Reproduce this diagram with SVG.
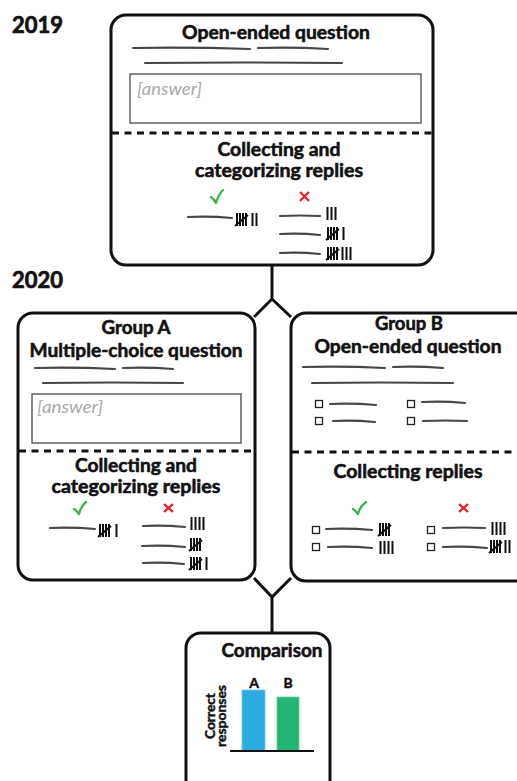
<svg xmlns="http://www.w3.org/2000/svg" xmlns:xlink="http://www.w3.org/1999/xlink" width="517" height="781" viewBox="0 0 517 781">
<style>
.box{fill:#fff;stroke:#111;stroke-width:3}
.ans{fill:#fff;stroke:#555;stroke-width:1.4}
.dash{stroke:#111;stroke-width:3;stroke-dasharray:7 5.5;fill:none}
.conn{stroke:#111;stroke-width:3;fill:none;stroke-linejoin:miter}
.h{font-family:Lato,"Open Sans","Liberation Sans",sans-serif;font-weight:700;fill:#111;stroke:#111;stroke-width:0.55;text-anchor:middle;font-size:18px}
.yr{font-family:Lato,"Open Sans","Liberation Sans",sans-serif;font-weight:700;fill:#111;stroke:#111;stroke-width:0.7;font-size:22px}
.ph{font-family:Lato,"Open Sans","Liberation Sans",sans-serif;font-style:italic;fill:#aaa;font-size:17px}
.sm{font-family:Lato,"Open Sans","Liberation Sans",sans-serif;font-weight:700;fill:#111;stroke:#111;stroke-width:0.45;text-anchor:middle;font-size:14px}
.scr{stroke:#333;stroke-width:2.1;stroke-linecap:round;fill:none;opacity:.9}
.ok{stroke:#3bb54a;stroke-width:2.3;fill:none;stroke-linecap:round;stroke-linejoin:round}
.no{stroke:#ed1c24;stroke-width:2.3;fill:none;stroke-linecap:butt}
.cb{fill:#fff;stroke:#222;stroke-width:1.3}
.t{stroke:#111;stroke-width:2;fill:none}
</style>
<defs>
<g id="t1"><line class="t" x1="0.5" y1="0" x2="0.5" y2="13"/></g>
<g id="t5"><line class="t" x1="1" y1="0" x2="1" y2="13"/><line class="t" x1="4" y1="0" x2="4" y2="13"/><line class="t" x1="7" y1="0" x2="7" y2="13"/><line class="t" x1="10" y1="0" x2="10" y2="13"/><line class="t" x1="-1" y1="13" x2="12" y2="2"/></g>
</defs>

<text class="yr" x="12" y="33" textLength="51" lengthAdjust="spacingAndGlyphs">2019</text>
<text class="yr" x="12" y="288" textLength="51" lengthAdjust="spacingAndGlyphs">2020</text>

<g id="connectors">
<path class="conn" d="M272,265 V299 L254,317 M272,299 L291,317"/>
<path class="conn" d="M254,578 L272,597 L291,578 M272,597 V633"/>
</g>

<g id="node-2019">
<rect class="box" x="111" y="15" width="322" height="250" rx="15"/>
<text class="h" x="276" y="39" textLength="188" lengthAdjust="spacingAndGlyphs">Open-ended question</text>
<path class="scr" d="M133,48 Q190,47 250,49 M258,48 Q295,47 328,49 M145,63 Q240,62 342,63"/>
<rect class="ans" x="130" y="74" width="291" height="49"/>
<text class="ph" x="137" y="95" textLength="65" lengthAdjust="spacingAndGlyphs">[answer]</text>
<line class="dash" x1="112" y1="133" x2="432" y2="133"/>
<text class="h" x="279" y="156" textLength="123" lengthAdjust="spacingAndGlyphs">Collecting and</text>
<text class="h" x="279" y="177" textLength="168" lengthAdjust="spacingAndGlyphs">categorizing replies</text>
<path class="ok" d="M211,197 Q214,199 216,203 Q218,195 223,190"/>
<path class="no" d="M300,192 L309,201 M309,192 L300,201"/>
<path class="scr" d="M188,217 Q210,216 232,218"/>
<use href="#t5" x="236" y="213"/><use href="#t1" x="252" y="213"/><use href="#t1" x="256" y="213"/>
<path class="scr" d="M280,216 Q300,215 320,216 M280,234 Q300,233 320,235 M280,253 Q300,252 320,254"/>
<use href="#t1" x="327" y="207"/><use href="#t1" x="331" y="207"/><use href="#t1" x="335" y="207"/>
<use href="#t5" x="327" y="227"/><use href="#t1" x="343" y="227"/>
<use href="#t5" x="327" y="247"/><use href="#t1" x="342" y="247"/><use href="#t1" x="346" y="247"/><use href="#t1" x="350" y="247"/>
</g>

<g id="node-groupA">
<rect class="box" x="18" y="313" width="237" height="267" rx="15"/>
<text class="h" x="136" y="334" textLength="69" lengthAdjust="spacingAndGlyphs">Group A</text>
<text class="h" x="136" y="357" textLength="213" lengthAdjust="spacingAndGlyphs">Multiple-choice question</text>
<path class="scr" d="M35,368 Q75,367 115,369 M123,368 Q148,367 173,369 M43,383 Q110,382 183,383"/>
<rect class="ans" x="32" y="394" width="209" height="49"/>
<text class="ph" x="37" y="413" textLength="66" lengthAdjust="spacingAndGlyphs">[answer]</text>
<line class="dash" x1="19" y1="451" x2="254" y2="451"/>
<text class="h" x="136" y="472" textLength="122" lengthAdjust="spacingAndGlyphs">Collecting and</text>
<text class="h" x="136" y="493" textLength="169" lengthAdjust="spacingAndGlyphs">categorizing replies</text>
<path class="ok" d="M74,509 Q77,511 79,514 Q81,506 86,502"/>
<path class="no" d="M164,504 L173,512 M173,504 L164,512"/>
<path class="scr" d="M50,528 Q72,527 95,529"/>
<use href="#t5" x="99" y="524"/><use href="#t1" x="116" y="524"/>
<path class="scr" d="M143,526 Q164,525 185,527 M142,546 Q164,545 185,547 M143,563 Q164,562 184,564"/>
<use href="#t1" x="191" y="517"/><use href="#t1" x="195" y="517"/><use href="#t1" x="199" y="517"/><use href="#t1" x="203" y="517"/>
<use href="#t5" x="190" y="538"/>
<use href="#t5" x="190" y="557"/><use href="#t1" x="206" y="557"/>
</g>

<g id="node-groupB">
<rect class="box" x="291" y="313" width="240" height="268" rx="15"/>
<text class="h" x="409" y="330" textLength="68" lengthAdjust="spacingAndGlyphs">Group B</text>
<text class="h" x="408" y="353" textLength="187" lengthAdjust="spacingAndGlyphs">Open-ended question</text>
<path class="scr" d="M303,367 Q344,366 385,368 M393,367 Q418,366 443,368 M312,383 Q380,382 453,383"/>
<rect class="cb" x="315.5" y="400.5" width="7" height="7"/>
<rect class="cb" x="315.5" y="417.5" width="7" height="7"/>
<rect class="cb" x="407.5" y="400.5" width="7" height="7"/>
<rect class="cb" x="407.5" y="417.5" width="7" height="7"/>
<path class="scr" d="M330,404 Q353,403 376,405 M333,421 Q354,420 375,422 M422,402 Q444,401 465,403 M423,421 Q445,420 467,421"/>
<line class="dash" x1="292" y1="452" x2="517" y2="452"/>
<text class="h" x="408" y="478" textLength="149" lengthAdjust="spacingAndGlyphs">Collecting replies</text>
<path class="ok" d="M353,509 Q356,511 358,514 Q360,506 366,502"/>
<path class="no" d="M459,504 L468,512 M468,504 L459,512"/>
<rect class="cb" x="312.5" y="526.5" width="7" height="7"/>
<rect class="cb" x="312.5" y="543.5" width="7" height="7"/>
<rect class="cb" x="427.5" y="526.5" width="7" height="7"/>
<rect class="cb" x="427.5" y="543.5" width="7" height="7"/>
<path class="scr" d="M326,529 Q349,528 372,530 M328,547 Q350,546 372,548 M443,528 Q464,527 485,528 M443,547 Q465,546 487,548"/>
<use href="#t5" x="379" y="523"/>
<use href="#t1" x="380" y="541"/><use href="#t1" x="384" y="541"/><use href="#t1" x="388" y="541"/><use href="#t1" x="392" y="541"/>
<use href="#t1" x="492" y="522"/><use href="#t1" x="496" y="522"/><use href="#t1" x="500" y="522"/><use href="#t1" x="504" y="522"/>
<use href="#t5" x="490" y="540"/><use href="#t1" x="505" y="540"/><use href="#t1" x="509" y="540"/>
</g>

<g id="node-comparison">
<rect class="box" x="186" y="633" width="144" height="175" rx="15"/>
<text class="h" x="272" y="657" textLength="101" lengthAdjust="spacingAndGlyphs">Comparison</text>
<rect x="242" y="690" width="23" height="61" fill="#29abe2" stroke="#6cc6ee" stroke-width="0.8"/>
<rect x="277" y="697" width="22" height="54" fill="#22b573" stroke="#6fd0a3" stroke-width="0.8"/>
<line x1="230" y1="751" x2="314" y2="751" stroke="#111" stroke-width="2"/>
<text class="sm" x="254" y="688">A</text>
<text class="sm" x="288" y="688">B</text>
<text class="sm" transform="translate(215,716) rotate(-90)" textLength="46" lengthAdjust="spacingAndGlyphs">Correct</text>
<text class="sm" transform="translate(226,716) rotate(-90)" textLength="62" lengthAdjust="spacingAndGlyphs">responses</text>
</g>
</svg>
